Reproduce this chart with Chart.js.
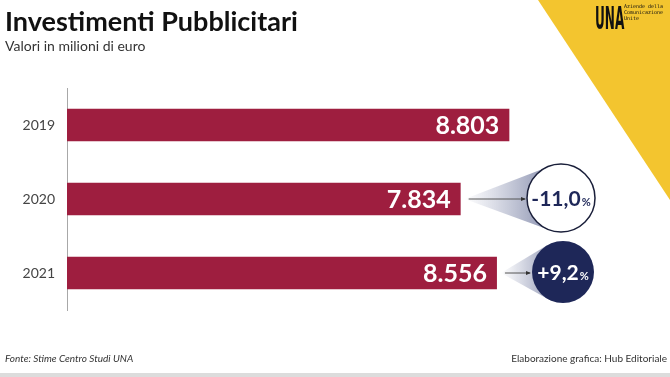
<!DOCTYPE html>
<html>
<head>
<meta charset="utf-8">
<script src="https://cdn.jsdelivr.net/npm/chart.js@4.4.1/dist/chart.umd.min.js"></script>
<style>
  html, body { margin: 0; padding: 0; background: #fff; }
  #wrap { width: 670px; height: 377px; position: relative; }
</style>
</head>
<body>
<div id="wrap"><canvas id="chart" width="670" height="377"></canvas></div>
<script>
const years = ['2019', '2020', '2021'];
const values = [8803, 7834, 8556];
const titleText = 'Investimenti Pubblicitari';
const subtitleText = 'Valori in milioni di euro';
const sourceText = 'Fonte: Stime Centro Studi UNA';
const creditText = 'Elaborazione grafica: Hub Editoriale';

const BAR = '#9e1e3f';
const NAVY = '#1e2758';

// italian number format: 8.803
function fmt(n) {
	return String(n).replace(/\B(?=(\d{3})+(?!\d))/g, '.');
}
function pct(a, b) {
	const p = (b - a) / a * 100;
	return (p > 0 ? '+' : '-') + Math.abs(p).toFixed(1).replace('.', ',');
}

const decor = {
	id: 'decor',
	beforeDraw(chart) {
		const ctx = chart.ctx;
		ctx.save();
		// yellow corner
		ctx.fillStyle = '#f3c52f';
		ctx.beginPath();
		ctx.moveTo(538, 0);
		ctx.lineTo(670, 0);
		ctx.lineTo(670, 200);
		ctx.closePath();
		ctx.fill();

		// logo
		ctx.fillStyle = '#111';
		ctx.save();
		ctx.translate(595, 29);
		ctx.scale(0.42, 1);
		ctx.font = 'bold 32px "DejaVu Sans Condensed"';
		ctx.fillText('UNA', 0, 0);
		ctx.restore();
		ctx.font = '5px "DejaVu Sans Mono"';
		ctx.fillText('Aziende della', 624, 8);
		ctx.fillText('Comunicazione', 624, 14);
		ctx.fillText('Unite', 624, 20);

		// titles
		ctx.fillStyle = '#111';
		ctx.font = 'bold 27px Lato';
		ctx.fillText(titleText, 5, 31);
		ctx.fillStyle = '#333';
		ctx.font = '14px Lato';
		ctx.fillText(subtitleText, 5, 51);

		// footer
		ctx.font = 'italic 10px Lato';
		ctx.fillStyle = '#333';
		ctx.fillText(sourceText, 5, 362);
		ctx.textAlign = 'right';
		ctx.font = '10px Lato';
		ctx.fillText(creditText, 667, 362);
		ctx.fillStyle = '#dcdcdc';
		ctx.fillRect(0, 373, 670, 4);
		ctx.restore();
	},
	afterDatasetsDraw(chart) {
		const ctx = chart.ctx;
		const bars = chart.getDatasetMeta(0).data;
		ctx.save();
		// value labels inside the bars
		ctx.fillStyle = '#fff';
		ctx.font = 'bold 25px Lato';
		ctx.textAlign = 'right';
		ctx.textBaseline = 'middle';
		bars.forEach((b, i) => {
			ctx.fillText(fmt(values[i]), b.x - 10, b.y + 1);
		});

		// change callouts
		for (let i = 1; i < bars.length; i++) {
			const b = bars[i];
			const cx = 561 + (i - 1) * 2, cy = b.y - 1;
			const r = i === 1 ? 34 : 31;
			const x0 = b.x + 4;
			// cone
			const g = ctx.createLinearGradient(x0, 0, cx, 0);
			g.addColorStop(0, 'rgba(140,148,180,0)');
			g.addColorStop(1, 'rgba(110,118,155,0.95)');
			ctx.fillStyle = g;
			ctx.beginPath();
			ctx.moveTo(x0, b.y);
			ctx.lineTo(cx - r * 0.5, cy - r * 0.87);
			ctx.lineTo(cx - r * 0.4, cy + r * 0.92);
			ctx.closePath();
			ctx.fill();
			// arrow line
			ctx.strokeStyle = '#555';
			ctx.lineWidth = 1;
			ctx.beginPath();
			ctx.moveTo(x0 + 4, b.y);
			ctx.lineTo(cx - r - 2, b.y);
			ctx.stroke();
			ctx.fillStyle = '#333';
			ctx.beginPath();
			ctx.moveTo(cx - r - 1, b.y);
			ctx.lineTo(cx - r - 6, b.y - 2);
			ctx.lineTo(cx - r - 6, b.y + 2);
			ctx.closePath();
			ctx.fill();
			// circle
			const up = values[i] > values[i - 1];
			ctx.beginPath();
			ctx.arc(cx, cy, r, 0, Math.PI * 2);
			ctx.fillStyle = up ? NAVY : '#fff';
			ctx.fill();
			if (!up) {
				ctx.strokeStyle = '#1a1f3a';
				ctx.lineWidth = 1.5;
				ctx.stroke();
			}
			// text
			const main = pct(values[i - 1], values[i]);
			ctx.fillStyle = up ? '#fff' : NAVY;
			ctx.textAlign = 'left';
			ctx.font = 'bold 21px Lato';
			const w1 = ctx.measureText(main).width;
			ctx.font = 'bold 11px Lato';
			const w2 = ctx.measureText('%').width;
			const sx = cx - (w1 + w2 + 1) / 2;
			ctx.font = 'bold 21px Lato';
			ctx.fillText(main, sx, cy + 1);
			ctx.font = 'bold 11px Lato';
			ctx.fillText('%', sx + w1 + 1, cy + 4);
		}
		ctx.restore();
	}
};

new Chart(document.getElementById('chart'), {
	type: 'bar',
	data: {
		labels: years,
		datasets: [{
			data: values,
			backgroundColor: BAR,
			borderWidth: 0,
			categoryPercentage: 1,
			barPercentage: 0.44
		}]
	},
	options: {
		indexAxis: 'y',
		responsive: false,
		animation: false,
		layout: { padding: { top: 88, bottom: 67, left: 0, right: 0 } },
		plugins: {
			legend: { display: false },
			tooltip: { enabled: false }
		},
		scales: {
			x: {
				display: false,
				min: 0,
				max: 12000
			},
			y: {
				afterFit(scale) { scale.width = 67; },
				grid: { display: false, drawTicks: false },
				border: { display: true, color: '#a8a8a8', width: 1 },
				ticks: {
					padding: 12,
					color: '#444',
					font: { family: 'Lato', size: 14 }
				}
			}
		}
	},
	plugins: [decor]
});
</script>
</body>
</html>
